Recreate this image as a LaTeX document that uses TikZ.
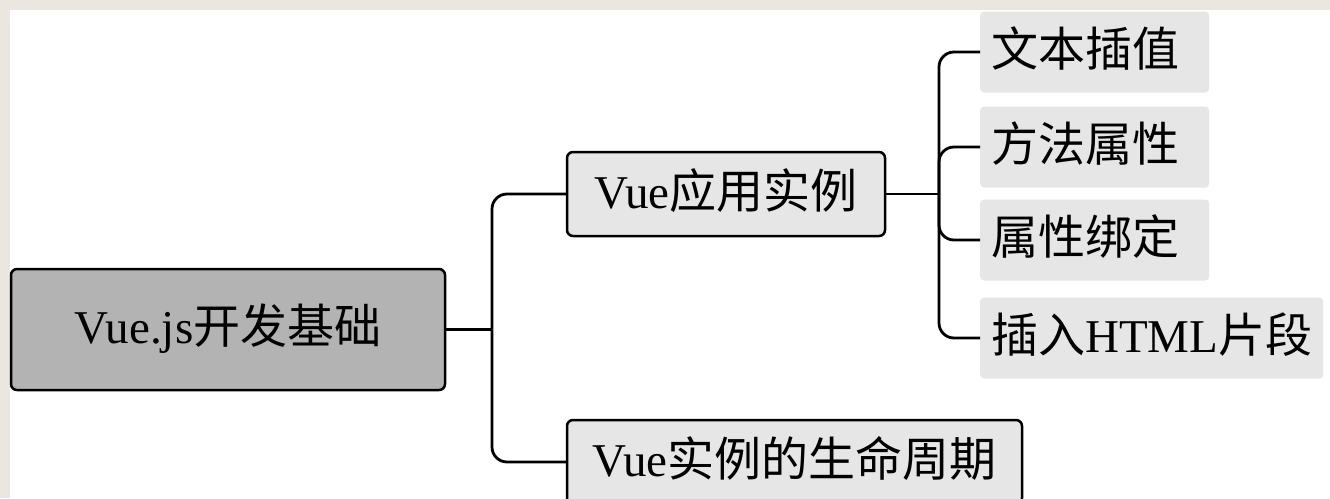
\documentclass[tikz,border=0pt]{standalone}
\usepackage{fontspec}
\setmainfont{Liberation Serif}
\newfontfamily\cjk{Noto Sans CJK SC}
\definecolor{bgbeige}{HTML}{EBE7E0}
\definecolor{rootgray}{HTML}{B3B3B3}
\definecolor{boxgray}{HTML}{E6E6E6}
\begin{document}
\begin{tikzpicture}[x=1pt,y=-1pt,
  txt/.style={font=\fontsize{47}{52}\selectfont, inner sep=0pt, text height=36pt, text depth=8pt},
  rootbox/.style={txt, draw=black, line width=2.5pt, fill=rootgray, rounded corners=6pt},
  midbox/.style={txt, draw=black, line width=2.5pt, fill=boxgray, rounded corners=6pt},
  leafbox/.style={txt, fill=boxgray, rounded corners=4pt, align=left, inner xsep=11pt, anchor=west, minimum height=81pt},
  link/.style={line width=2.8pt, rounded corners=15pt}]
\useasboundingbox (0,0) rectangle (1330,498);
\clip (0,0) rectangle (1330,498);
\fill[bgbeige] (0,0) rectangle (1330,498);
\fill[white] (10,10) rectangle (1330,498);

\node[rootbox, minimum width=434pt, minimum height=121pt] (root) at (228,329.5) {Vue.js{\cjk 开发基础}};
\node[midbox, minimum width=318pt, minimum height=84pt] (c1) at (726,194) {Vue{\cjk 应用实例}};
\node[midbox, minimum width=455pt, minimum height=84pt] (c2) at (794.5,462) {Vue{\cjk 实例的生命周期}};

\node[leafbox, text width=207pt] (l1) at (980,52) {\cjk 文本插值};
\node[leafbox, text width=207pt] (l2) at (980,147) {\cjk 方法属性};
\node[leafbox, text width=207pt] (l3) at (980,240) {\cjk 属性绑定};
\node[leafbox, text width=321pt] (l4) at (980,338) {{\cjk 插入}HTML{\cjk 片段}};

\coordinate (j1) at (492,329.5);
\coordinate (j2) at (939,194);

\draw[link] (root.east) -- (j1);
\draw[link] (j1) |- (c1.west);
\draw[link] (j1) |- (c2.west);

\draw[link] (c1.east) -- (j2);
\draw[link] (j2) |- (l1.west);
\draw[link] (j2) |- (l2.west);
\draw[link] (j2) |- (l3.west);
\draw[link] (j2) |- (l4.west);
\end{tikzpicture}
\end{document}
